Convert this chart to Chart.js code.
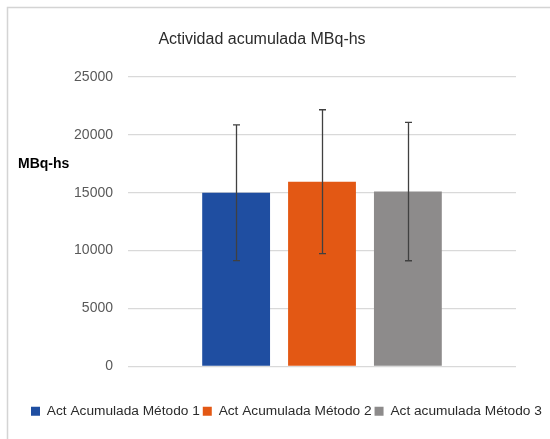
<!DOCTYPE html>
<html><head><meta charset="utf-8">
<script src="https://cdn.jsdelivr.net/npm/chart.js@4/dist/chart.umd.min.js"></script>
<style>html,body{margin:0;padding:0;background:#fff}#wrap{width:550px;height:439px;position:relative}</style>
</head><body><div id="wrap"><canvas id="c" width="550" height="439"></canvas></div>
<script>
const categories = [''];
const seriesLabels = ['Act Acumulada Método 1', 'Act Acumulada Método 2', 'Act acumulada Método 3'];
const seriesMeans = [15000, 15950, 15100];
const seriesErrors = [5860, 6220, 5980];
const seriesColors = ['#1f4ea1', '#e35814', '#8d8b8b'];
const yTicks = [0, 5000, 10000, 15000, 20000, 25000];
const chartTitle = 'Actividad acumulada MBq-hs';
const yAxisLabel = 'MBq-hs';

const FF = "'Liberation Sans', Arial, sans-serif";

const errorBars = {
  id: 'errorBars',
  afterDatasetsDraw(chart) {
    const ctx = chart.ctx, y = chart.scales.y;
    ctx.save();
    ctx.strokeStyle = '#404040';
    ctx.lineWidth = 1.3;
    chart.data.datasets.forEach((ds, i) => {
      const meta = chart.getDatasetMeta(i);
      meta.data.forEach((bar, j) => {
        const m = ds.data[j], e = ds.errors[j];
        const yt = y.getPixelForValue(m + e), yb = y.getPixelForValue(m - e);
        const x = Math.round(bar.x) + 0.5;
        ctx.beginPath();
        ctx.moveTo(x, yt); ctx.lineTo(x, yb);
        ctx.moveTo(x - 3.5, yt); ctx.lineTo(x + 3.5, yt);
        ctx.moveTo(x - 3.5, yb); ctx.lineTo(x + 3.5, yb);
        ctx.stroke();
      });
    });
    ctx.restore();
  }
};

const decor = {
  id: 'decor',
  afterDraw(chart) {
    const ctx = chart.ctx;
    ctx.save();
    ctx.strokeStyle = '#d4d4d4';
    ctx.lineWidth = 1.5;
    ctx.strokeRect(7.5, 7.5, 700, 700);
    ctx.fillStyle = '#2b2b2b';
    ctx.font = "16px " + FF;
    ctx.textAlign = 'center';
    ctx.textBaseline = 'middle';
    ctx.fillText(chartTitle, 262, 40);
    ctx.fillStyle = '#000';
    ctx.font = "bold 14px " + FF;
    ctx.textAlign = 'left';
    ctx.fillText(yAxisLabel, 18, 164);
    ctx.restore();
  }
};

new Chart(document.getElementById('c'), {
  type: 'bar',
  data: {
    labels: categories,
    datasets: seriesLabels.map((l, i) => ({
      label: l,
      data: [seriesMeans[i]],
      errors: [seriesErrors[i]],
      backgroundColor: seriesColors[i],
      borderWidth: 0,
      categoryPercentage: 0.664,
      barPercentage: 0.79
    }))
  },
  options: {
    responsive: false,
    animation: false,
    devicePixelRatio: 1,
    layout: { padding: { left: 28, right: -10, top: 77, bottom: 11 } },
    plugins: {
      title: { display: false },
      tooltip: { enabled: false },
      legend: {
        position: 'bottom',
        align: 'start',
        labels: {
          boxWidth: 9, boxHeight: 9, padding: 3,
          color: '#2b2b2b',
          font: { family: FF, size: 13.7 }
        }
      }
    },
    scales: {
      x: {
        display: true,
        afterFit(s) { s.height = 35; },
        grid: { display: false }, border: { display: false },
        ticks: { display: false }
      },
      y: {
        min: 0, max: 25000,
        afterBuildTicks(s) { s.ticks = yTicks.map(v => ({ value: v })); },
        afterFit(s) { s.width = 100; },
        grid: { color: '#d9d9d9', lineWidth: 1.3, drawTicks: false },
        border: { display: false },
        ticks: { padding: 15, color: '#595959', font: { family: FF, size: 14 },
                 callback: v => String(v) }
      },
      y2: {
        position: 'right', display: true,
        afterFit(s) { s.width = 44; },
        grid: { display: false }, border: { display: false },
        ticks: { display: false }
      }
    }
  },
  plugins: [errorBars, decor]
});
</script></body></html>
